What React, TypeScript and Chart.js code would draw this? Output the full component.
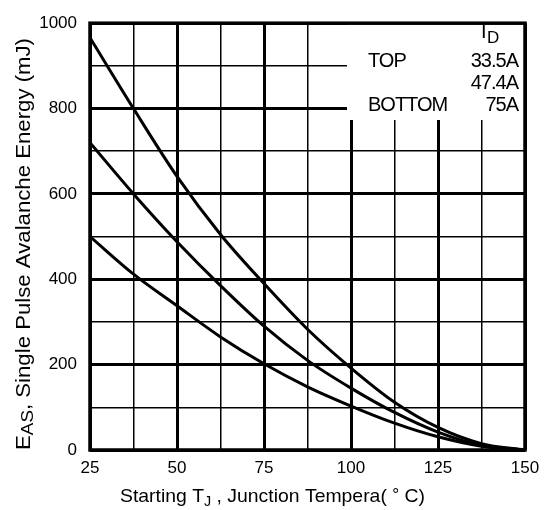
import React, { useEffect, useRef } from "react";
import { Chart, registerables } from "chart.js";

Chart.register(...registerables);

const temps = [25, 37.5, 50, 62.5, 75, 87.5, 100, 112.5, 125, 137.5, 150];
const eas33_5A = [966, 800, 641, 505, 390, 283, 192, 112, 53, 15, 0];
const eas47_4A = [720, 600, 488, 385, 290, 210, 145, 88, 42, 11, 0];
const eas75A = [500, 412, 338, 265, 202, 148, 103, 63, 31, 9, 0];

const xTicks = [25, 50, 75, 100, 125, 150];
const yTicks = [0, 200, 400, 600, 800, 1000];

const legendHeader = "I";
const legendHeaderSub = "D";
const legendRows = [
  { pos: "TOP", value: "33.5A" },
  { pos: "", value: "47.4A" },
  { pos: "BOTTOM", value: "75A" },
];

const FONT = "'Liberation Sans', Arial, sans-serif";

type Part = { text: string; size: number; dy: number };

function drawParts(ctx: CanvasRenderingContext2D, parts: Part[], target: number) {
  let total = 0;
  const widths = parts.map((p) => {
    ctx.font = `${p.size}px ${FONT}`;
    const w = ctx.measureText(p.text).width;
    total += w;
    return w;
  });
  const s = target / total;
  ctx.save();
  ctx.scale(s, 1);
  let x = 0;
  parts.forEach((p, i) => {
    ctx.font = `${p.size}px ${FONT}`;
    ctx.fillText(p.text, x, p.dy);
    x += widths[i];
  });
  ctx.restore();
}

const decorPlugin = {
  id: "decor",
  beforeDatasetsDraw(chart: any) {
    const { ctx, chartArea } = chart;
    ctx.save();
    ctx.fillStyle = "#fff";
    ctx.fillRect(347, chartArea.top, chartArea.right - 347, 120 - chartArea.top);
    ctx.restore();
  },
  afterDatasetsDraw(chart: any) {
    const { ctx, chartArea } = chart;
    ctx.save();
    // frame
    ctx.strokeStyle = "#000";
    ctx.lineWidth = 3.5;
    ctx.strokeRect(chartArea.left, chartArea.top, chartArea.right - chartArea.left, chartArea.bottom - chartArea.top);

    // legend
    ctx.fillStyle = "#000";
    ctx.textBaseline = "alphabetic";
    ctx.font = `20px ${FONT}`;
    ctx.textAlign = "left";
    ctx.fillText(legendHeader, 481, 38);
    ctx.font = `17px ${FONT}`;
    ctx.fillText(legendHeaderSub, 487, 43);
    const baselines = [67, 89, 111];
    legendRows.forEach((r, i) => {
      ctx.font = `20px ${FONT}`;
      (ctx as any).letterSpacing = "-1px";
      ctx.textAlign = "left";
      if (r.pos) ctx.fillText(r.pos, 368, baselines[i]);
      ctx.textAlign = "right";
      ctx.fillText(r.value, 518, baselines[i]);
    });
    (ctx as any).letterSpacing = "0px";
    ctx.textAlign = "left";

    // x title
    ctx.save();
    ctx.translate(120, 502);
    drawParts(
      ctx,
      [
        { text: "Starting T", size: 19, dy: 0 },
        { text: "J", size: 14, dy: 4 },
        { text: " , Junction Tempera( ", size: 19, dy: 0 },
        { text: "°", size: 17, dy: -2 },
        { text: " C)", size: 19, dy: 0 },
      ],
      305
    );
    ctx.restore();

    // y title
    ctx.save();
    ctx.translate(30, 450);
    ctx.rotate(-Math.PI / 2);
    drawParts(
      ctx,
      [
        { text: "E", size: 20, dy: 0 },
        { text: "AS", size: 17, dy: 3 },
        { text: ", Single Pulse Avalanche Energy (mJ)", size: 20, dy: 0 },
      ],
      412
    );
    ctx.restore();

    ctx.restore();
  },
};

export default function App() {
  const ref = useRef<HTMLCanvasElement>(null);
  useEffect(() => {
    if (!ref.current) return;
    const mk = (data: number[]) => ({
      data: temps.map((t, i) => ({ x: t, y: data[i] })),
      borderColor: "#000",
      borderWidth: 3,
      pointRadius: 0,
      cubicInterpolationMode: "monotone" as const,
      fill: false,
    });
    const chart = new Chart(ref.current, {
      type: "line",
      data: {
        datasets: [mk(eas33_5A), mk(eas47_4A), mk(eas75A)],
      },
      plugins: [decorPlugin],
      options: {
        animation: false,
        responsive: false,
        events: [],
        layout: { padding: { left: 0, top: 13, right: 23, bottom: 0 } },
        plugins: { legend: { display: false }, tooltip: { enabled: false }, title: { display: false } },
        scales: {
          x: {
            type: "linear",
            min: 25,
            max: 150,
            afterFit: (s: any) => {
              s.height = 60;
            },
            border: { display: false },
            grid: {
              color: "#000",
              drawTicks: false,
              lineWidth: (c: any) => (c.tick && xTicks.includes(c.tick.value) ? 3 : 1.5),
            },
            ticks: {
              stepSize: 12.5,
              autoSkip: false,
              maxRotation: 0,
              padding: 8,
              color: "#000",
              font: { family: FONT, size: 17 },
              callback: (v: any) => (xTicks.includes(Number(v)) ? String(v) : ""),
            },
          },
          y: {
            type: "linear",
            min: 0,
            max: 1000,
            afterFit: (s: any) => {
              s.width = 90;
            },
            border: { display: false },
            grid: {
              color: "#000",
              drawTicks: false,
              lineWidth: (c: any) => (c.tick && yTicks.includes(c.tick.value) ? 3 : 1.5),
            },
            ticks: {
              stepSize: 100,
              autoSkip: false,
              padding: 13,
              color: "#000",
              font: { family: FONT, size: 17 },
              callback: (v: any) => (yTicks.includes(Number(v)) ? String(v) : ""),
            },
          },
        },
      },
    });
    return () => chart.destroy();
  }, []);
  return (
    <div style={{ position: "fixed", left: 0, top: 0, width: 548, height: 510, background: "#fff" }}>
      <canvas ref={ref} width={548} height={510} style={{ width: 548, height: 510 }} />
    </div>
  );
}
